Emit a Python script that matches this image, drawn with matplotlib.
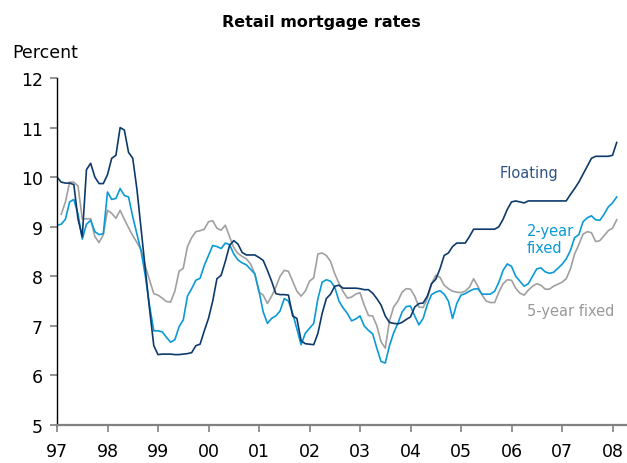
import numpy as np
import matplotlib
matplotlib.use("Agg")
import matplotlib.pyplot as plt

# monthly data, Jan 1997 - Feb 2008
start_year = 1997
floating = [10.0, 9.9, 9.88, 9.88, 9.85, 9.15, 8.8, 10.15, 10.28, 10.0, 9.87, 9.87,
            10.05, 10.38, 10.44, 11.0, 10.95, 10.5, 10.38, 9.75, 8.93, 8.13, 7.33, 6.6,
            6.42, 6.43, 6.43, 6.43, 6.42, 6.42, 6.43, 6.44, 6.46, 6.6, 6.63, 6.9,
            7.15, 7.5, 7.95, 8.02, 8.3, 8.62, 8.72, 8.65, 8.48, 8.43, 8.43, 8.43,
            8.38, 8.32, 8.12, 7.9, 7.65, 7.63, 7.63, 7.62, 7.2, 7.15, 6.7, 6.64,
            6.63, 6.62, 6.85, 7.25, 7.55, 7.64, 7.8, 7.82, 7.76, 7.76, 7.76, 7.76,
            7.75, 7.73, 7.73, 7.66, 7.55, 7.42, 7.2, 7.07, 7.05, 7.04, 7.07, 7.13,
            7.18, 7.38, 7.45, 7.46, 7.6, 7.85, 7.94, 8.15, 8.42, 8.47, 8.6, 8.67,
            8.67, 8.67, 8.8, 8.95, 8.95, 8.95, 8.95, 8.95, 8.95, 9.0, 9.15, 9.35,
            9.5, 9.52, 9.5, 9.48, 9.52, 9.52, 9.52, 9.52, 9.52, 9.52, 9.52, 9.52,
            9.52, 9.52, 9.65, 9.77, 9.9, 10.06, 10.22, 10.38, 10.42, 10.42, 10.42, 10.42,
            10.44, 10.7]
fixed_2y = [9.03, 9.05, 9.15, 9.5, 9.55, 9.25, 8.75, 9.05, 9.13, 8.9, 8.84, 8.86,
            9.7, 9.55, 9.57, 9.77, 9.63, 9.6, 9.2, 8.85, 8.5, 8.0, 7.4, 6.9,
            6.9, 6.88, 6.77, 6.67, 6.72, 6.98, 7.12, 7.6, 7.75, 7.92, 7.96, 8.22,
            8.42, 8.62, 8.6, 8.56, 8.67, 8.64, 8.45, 8.33, 8.27, 8.23, 8.14, 8.05,
            7.7, 7.28, 7.05, 7.15, 7.2, 7.3, 7.55, 7.5, 7.25, 6.94, 6.62, 6.85,
            6.95, 7.05, 7.55, 7.88, 7.93, 7.9, 7.78, 7.5, 7.36, 7.25, 7.1, 7.14,
            7.2, 7.0, 6.91, 6.84, 6.55, 6.28, 6.25, 6.6, 6.86, 7.05, 7.28, 7.39,
            7.4, 7.2, 7.02, 7.15, 7.43, 7.63, 7.68, 7.71, 7.64, 7.5, 7.15, 7.45,
            7.62, 7.65, 7.7, 7.74, 7.75, 7.64, 7.64, 7.64, 7.7, 7.88, 8.12, 8.25,
            8.2, 8.0, 7.9, 7.8, 7.85, 8.0, 8.15, 8.17, 8.09, 8.06, 8.08, 8.16,
            8.24, 8.35, 8.52, 8.78, 8.84, 9.1, 9.18, 9.22, 9.14, 9.13, 9.25, 9.4,
            9.48, 9.6]
fixed_5y = [np.nan, 9.25, 9.5, 9.9, 9.9, 9.82, 9.16, 9.16, 9.16, 8.8, 8.68, 8.84,
            9.33, 9.27, 9.17, 9.33, 9.15, 8.98, 8.82, 8.68, 8.53, 8.2, 7.92, 7.65,
            7.62, 7.56, 7.49, 7.48, 7.7, 8.1, 8.16, 8.6, 8.78, 8.9, 8.92, 8.95,
            9.1, 9.12, 8.97, 8.93, 9.03, 8.8, 8.58, 8.46, 8.4, 8.35, 8.25, 8.05,
            7.68, 7.62, 7.45, 7.6, 7.78, 8.0, 8.12, 8.1, 7.9, 7.7, 7.6, 7.7,
            7.9, 7.97, 8.45, 8.47, 8.42, 8.3, 8.05, 7.86, 7.69, 7.56, 7.58, 7.64,
            7.67, 7.42, 7.21, 7.2, 7.0, 6.68, 6.55, 7.1, 7.38, 7.5, 7.68, 7.75,
            7.74, 7.6, 7.38, 7.37, 7.55, 7.85, 8.02, 7.98, 7.82, 7.75, 7.7, 7.68,
            7.67, 7.7, 7.78, 7.95, 7.8, 7.62, 7.5, 7.47, 7.47, 7.68, 7.85, 7.93,
            7.92, 7.76, 7.66, 7.62, 7.72, 7.8, 7.85, 7.82, 7.74, 7.74, 7.8, 7.84,
            7.88, 7.95, 8.15, 8.45, 8.64, 8.85, 8.9, 8.88, 8.7, 8.72, 8.82, 8.92,
            8.97, 9.14]
tick_years = list(range(1997, 2009))
tick_labels = ["97", "98", "99", "00", "01", "02", "03", "04", "05", "06", "07", "08"]

navy = "#0d3a6b"
lightblue = "#0a9ad6"
grey = "#a0a0a0"

x = start_year + np.arange(len(floating)) / 12.0

fig = plt.figure(figsize=(6.27, 4.64), dpi=100)
ax = fig.add_axes([57 / 627, 1 - 426 / 464, 570 / 627, 347 / 464])

ax.plot(x, fixed_5y, color=grey, lw=1.2)
ax.plot(x, fixed_2y, color=lightblue, lw=1.2)
ax.plot(x, floating, color=navy, lw=1.2)

ax.set_xlim(1997, 1997 + 570 / 50.5)
ax.set_ylim(5, 12)
ax.set_xticks(tick_years)
ax.set_xticklabels(tick_labels)
ax.set_yticks(range(5, 13))

for s in ["top", "right"]:
    ax.spines[s].set_visible(False)
ax.spines["left"].set_color("black")
ax.spines["left"].set_linewidth(1.0)
ax.spines["bottom"].set_color("#808080")
ax.spines["bottom"].set_linewidth(1.6)
ax.tick_params(axis="y", direction="out", length=5, width=1.2, colors="#808080",
               labelcolor="black", labelsize=12.5, pad=5)
ax.tick_params(axis="x", direction="out", length=5, width=1.2, colors="#808080",
               labelcolor="black", labelsize=12.5, pad=7)

ax.text(1997 + (500 - 57) / 50.5, 12 - (174 - 79) / 49.6, "Floating", color="#2e5283",
        fontsize=10.5, va="center", ha="left")
ax.text(1997 + (527 - 57) / 50.5, 12 - (240 - 79) / 49.6, "2-year\nfixed", color=lightblue,
        fontsize=10.5, va="center", ha="left", linespacing=1.15)
ax.text(1997 + (527 - 57) / 50.5, 12 - (312 - 79) / 49.6, "5-year fixed", color="#999999",
        fontsize=10.5, va="center", ha="left")

fig.text(321 / 627, 1 - 22 / 464, "Retail mortgage rates", ha="center", va="center",
         fontsize=11.5, fontweight="bold")
fig.text(12 / 627, 1 - 53 / 464, "Percent", ha="left", va="center", fontsize=12.5)

fig.savefig("out.png", dpi=100)
